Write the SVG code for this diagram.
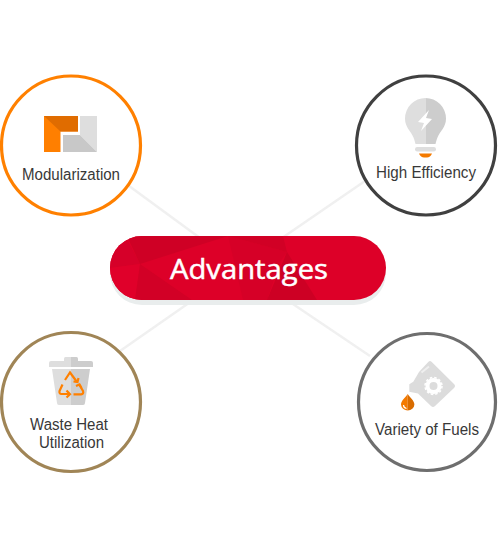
<svg xmlns="http://www.w3.org/2000/svg" width="498" height="543" viewBox="0 0 498 543">
<style>
.lbl{font-family:"Liberation Sans",Arial,sans-serif;font-size:16px;fill:#383838;text-anchor:start}
.ring{fill:#fff;stroke-width:3.2}
.link{stroke:#f0f0f0;stroke-width:2.400;fill:none}
</style>
<defs>
<clipPath id="pill"><rect x="110" y="236" width="276" height="64" rx="32"/></clipPath>
</defs>
<g id="connectors">
<line class="link" x1="125" y1="183" x2="200" y2="238"/>
<line class="link" x1="365" y1="181" x2="282" y2="238"/>
<line class="link" x1="120" y1="351" x2="196" y2="298"/>
<line class="link" x1="370" y1="356" x2="284" y2="298"/>
</g>
<g id="center">
<rect x="110" y="241" width="276" height="64" rx="32" fill="#e9eded"/>
<g clip-path="url(#pill)">
<rect x="110" y="236" width="276" height="64" fill="#dd0028"/>
<polygon points="110,236 127,239 140,264 110,268" fill="#d60029"/>
<polygon points="110,268 140,264 135,300 110,300" fill="#e0002a"/>
<polygon points="127,236 228,236 140,264" fill="#cf0025"/>
<polygon points="140,264 135,300 192,300" fill="#d20026"/>
<polygon points="228,236 287,252 280,262 267,300 243,300" fill="#d60027"/>
<polygon points="228,236 283,236 287,252" fill="#d10025"/>
<polygon points="287,252 267,300 317,300" fill="#cd0024"/>
</g>
<text x="170" y="279" font-family="Open Sans,Noto Sans,sans-serif" font-size="28px" fill="#fff" stroke="#fff" stroke-width="0.500" textLength="158" lengthAdjust="spacingAndGlyphs">Advantages</text>
</g>
<g id="modularization">
<circle class="ring" cx="71" cy="145.500" r="69.500" stroke="#ff8000"/>
<polygon points="44,116 78,116 78,131.500 60.500,131.500 60.500,152 44,152" fill="#ff7f00"/>
<polygon points="44,116 78,116 78,131.500 60.500,131.500" fill="#e06c00"/>
<polygon points="80,116 97,116 97,152 80,135" fill="#dedede"/>
<polygon points="63,135 80,135 97,152 63,152" fill="#c8c8c8"/>
<text class="lbl" x="22" y="180" textLength="98" lengthAdjust="spacingAndGlyphs">Modularization</text>
</g>
<g id="high-efficiency">
<circle class="ring" cx="426" cy="145.500" r="69.500" stroke="#404040"/>
<path d="M425.500 98a20.500 20.500 0 0 0-20.500 20.500c0 9 6 12.500 8.500 19 1 2.500 1.500 4.500 2 6.500h10z" fill="#dedede"/>
<path d="M425.500 98a20.500 20.500 0 0 1 20.500 20.500c0 9-6 12.500-8.500 19-1 2.500-1.500 4.500-2 6.500h-10z" fill="#cdcdcd"/>
<rect x="415" y="147" width="21" height="4.500" rx="2.200" fill="#dedede"/>
<path d="M419 153.500h13c-1 2.500-3 4-5 4h-3c-2 0-4-1.500-5-4z" fill="#f47a00"/>
<polygon points="429,110 418,122 424,123 421,131 432,119 426,118" fill="#fff"/>
<text class="lbl" x="376" y="178" textLength="100" lengthAdjust="spacingAndGlyphs">High Efficiency</text>
</g>
<g id="waste-heat">
<circle class="ring" cx="71" cy="402" r="69.500" stroke="#a08556"/>
<path d="M64 361v-2.500a1.500 1.500 0 0 1 1.500-1.500h5.500v4z" fill="#dedede"/>
<path d="M78 361v-2.500a1.500 1.500 0 0 0-1.500-1.500h-5.500v4z" fill="#cdcdcd"/>
<path d="M49 367v-4a2 2 0 0 1 2-2h20v6z" fill="#dedede"/>
<path d="M93 367v-4a2 2 0 0 0-2-2h-20v6z" fill="#cdcdcd"/>
<path d="M52 369h19v36h-12a2 2 0 0 1-2-2z" fill="#dedede"/>
<path d="M90 369h-19v36h12a2 2 0 0 0 2-2z" fill="#cdcdcd"/>
<g fill="none" stroke="#ff8000" stroke-width="2.200">
<path d="M65 380L70 372.500L77 382"/><path d="M73.500 381.500L77.500 382L78.500 378"/>
<path d="M62.500 384.500L59.500 391Q59 394 61.500 394H69"/><path d="M66.500 390.500L70 394.300L66.500 397.500"/>
<path d="M73.500 394.300H81Q84 394 83 391L79.500 385"/><path d="M76 386L79.500 384.500L81.500 388"/>
</g>
<text class="lbl" x="30" y="430" textLength="78" lengthAdjust="spacingAndGlyphs">Waste Heat</text>
<text class="lbl" x="39" y="448" textLength="65" lengthAdjust="spacingAndGlyphs">Utilization</text>
</g>
<g id="variety-fuels">
<circle class="ring" cx="427" cy="402" r="68.500" stroke="#6e6e6e"/>
<path d="M409.300 384.300l4-2.600 5.700-9.700 9.500-10.300q1.500-1.500 3 0l22.500 22.300q2 2 0 4l-19 18q-2 2-4 0l-13-12.500-8.700-1.800z" fill="#dcdcdc"/>
<line x1="421.500" y1="372.500" x2="429" y2="366.500" stroke="#efefef" stroke-width="2"/>
<circle cx="433.500" cy="386" r="6" fill="none" stroke="#fff" stroke-width="4"/>
<circle cx="433.500" cy="386" r="8.500" fill="none" stroke="#fff" stroke-width="1.500" stroke-dasharray="2.500 2"/>
<path d="M407.700 394c-2 3.500-6.700 6.500-6.700 10.500a6.700 6.300 0 0 0 6.700 6z" fill="#f47a00"/>
<path d="M407.700 394c2 3.500 6.700 6.500 6.700 10.500a6.700 6.300 0 0 1-6.700 6z" fill="#d96c00"/>
<path d="M403.500 405c0 2 1 3 3 3.500" fill="none" stroke="#fff" stroke-width="1.200"/>
<text class="lbl" x="375" y="435" textLength="104" lengthAdjust="spacingAndGlyphs">Variety of Fuels</text>
</g>
</svg>
